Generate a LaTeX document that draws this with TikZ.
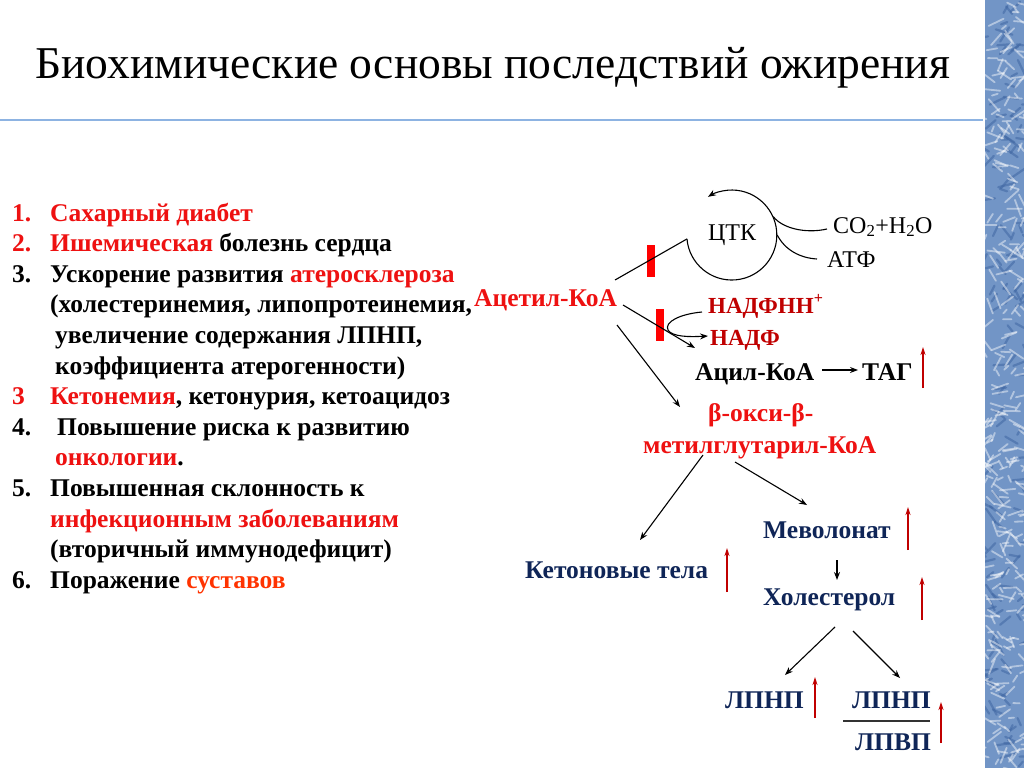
\documentclass[tikz,border=0pt]{standalone}
\usepackage{fontspec}
\setmainfont{Liberation Serif}
\usetikzlibrary{arrows.meta,calc}
\definecolor{navy}{HTML}{0F2557}
\definecolor{hired}{HTML}{EE1111}
\definecolor{darkred}{HTML}{C00000}
\definecolor{orangered}{HTML}{FF3300}
\definecolor{rulecol}{HTML}{8DB3E2}
\definecolor{frost}{HTML}{7295C6}
\definecolor{frostdark}{HTML}{3F66A2}
\begin{document}
\begin{tikzpicture}[x=1pt,y=-1pt,
  lst/.style={anchor=base west, inner sep=0pt, font=\fontsize{25.5}{30}\selectfont\bfseries},
  dg/.style={anchor=base west, inner sep=0pt, font=\fontsize{25.5}{30}\selectfont\bfseries},
  thin/.style={anchor=base west, inner sep=0pt, font=\fontsize{24}{28}\selectfont},
  arr/.style={-{Stealth[length=8pt,width=6pt]}, line width=1.1pt},
  uparr/.style={darkred, line width=1.6pt, -{Stealth[length=8pt,width=5pt]}},
  redbar/.style={fill=red, draw=none, inner sep=0pt, minimum width=8pt, minimum height=32pt}]
\useasboundingbox (0,0) rectangle (1024,768);
\fill[white] (0,0) rectangle (1024,768);

% right frosted strip
\begin{scope}
  \clip (985,0) rectangle (1024,768);
  \fill[frost] (985,0) rectangle (1024,768);
  \pgfmathsetseed{7}
  \foreach \i in {1,...,140}{
    \pgfmathsetmacro\xx{980+48*rnd}
    \pgfmathsetmacro\yy{768*rnd}
    \pgfmathsetmacro\ll{6+12*rnd}
    \pgfmathsetmacro\aa{-70+140*rnd}
    \draw[frostdark, opacity=0.55, line width=2.2pt, line cap=round] (\xx,\yy) -- ++(\aa:\ll);
  }
  \foreach \i in {1,...,320}{
    \pgfmathsetmacro\xx{980+48*rnd}
    \pgfmathsetmacro\yy{768*rnd}
    \pgfmathsetmacro\ll{5+13*rnd}
    \pgfmathsetmacro\aa{-70+140*rnd}
    \draw[white, opacity=0.45, line width=1.8pt, line cap=round] (\xx,\yy) -- ++(\aa:\ll);
  }
\end{scope}

% title and rule
\node[anchor=base west, inner sep=0pt, font=\fontsize{45.5}{54}\selectfont] (title) at (35,78) {Биохимические основы последствий ожирения};
\draw[rulecol, line width=2.5pt] (0,120) -- (983,120);

% list
\node[lst,hired] (n1) at (12,221) {1.};
\node[lst,hired] (t1) at (50,221) {Сахарный диабет};
\node[lst,hired] (n2) at (12,251.6) {2.};
\node[lst] (t2) at (50,251.6) {\textcolor{hired}{Ишемическая} болезнь сердца};
\node[lst] (n3) at (12,282.2) {3.};
\node[lst] (t3) at (50,282.2) {Ускорение развития \textcolor{hired}{атеросклероза}};
\node[lst] (t3b) at (50,312.8) {(холестеринемия, липопротеинемия,};
\node[lst] (t3c) at (55,343.4) {увеличение содержания ЛПНП,};
\node[lst] (t3d) at (55,374) {коэффициента атерогенности)};
\node[lst,hired] (n3k) at (12,404.6) {3};
\node[lst] (tk) at (50,404.6) {\textcolor{hired}{Кетонемия}, кетонурия, кетоацидоз};
\node[lst] (n4) at (12,435.2) {4.};
\node[lst] (t4) at (57,435.2) {Повышение риска к развитию};
\node[lst,hired] (t4b) at (55,465.8) {онкологии\textcolor{black}{.}};
\node[lst] (n5) at (12,496.4) {5.};
\node[lst] (t5) at (50,496.4) {Повышенная склонность к};
\node[lst,hired] (t5b) at (50,527) {инфекционным заболеваниям};
\node[lst] (t5c) at (50,557.6) {(вторичный иммунодефицит)};
\node[lst] (n6) at (12,588.2) {6.};
\node[lst] (t6) at (50,588.2) {Поражение \textcolor{orangered}{суставов}};

% diagram nodes
\node[dg,hired] (acetyl) at (474,306) {Ацетил-КоА};
\node[circle, inner sep=0pt, minimum size=90pt, font=\fontsize{24}{28}\selectfont] (ctk) at (732,235) {ЦТК};
\node[thin] (co2) at (833,233) {CO\textsubscript{2}+H\textsubscript{2}O};
\node[thin] (atf) at (827,267) {АТФ};
\node[dg, darkred, font=\fontsize{23}{28}\selectfont\bfseries] (nadph) at (708,313) {НАДФНН\textsuperscript{+}};
\node[dg, darkred, font=\fontsize{23}{28}\selectfont\bfseries] (nadp) at (710,345) {НАДФ};
\node[dg] (acyl) at (695,380) {Ацил-КоА};
\node[dg] (tag) at (862,380) {ТАГ};
\node[dg,hired] (beta1) at (708,421.7) {β-окси-β-};
\node[dg,hired] (beta2) at (643,453) {метилглутарил-КоА};
\node[dg,navy] (mev) at (763,538) {Меволонат};
\node[dg,navy] (keto) at (525,578) {Кетоновые тела};
\node[dg,navy] (chol) at (763,605) {Холестерол};
\node[dg,navy] (ldl) at (725,708) {ЛПНП};
\node[dg,navy] (ldl2) at (852,708) {ЛПНП};
\node[dg,navy] (hdl) at (855,750) {ЛПВП};
\node[redbar] (bar1) at (651,261) {};
\node[redbar] (bar2) at (660,325) {};

% cycle
\draw[line width=1.1pt, -{Stealth[length=8pt,width=6pt]}] (ctk.185) arc[start angle=185, end angle=482, radius=45pt];
\draw[line width=1.1pt] ($(acetyl.base west)+(141,-26)$) -- (ctk.185);
\draw[line width=1.1pt] (ctk.24) .. controls (782,228) and (805,234) .. ($(co2.base west)+(-6,-4)$);
\draw[line width=1.1pt] (ctk.0) .. controls (785,250) and (800,258) .. ($(atf.base west)+(-10,-8)$);

% acetyl branches
\draw[arr] ($(acetyl.base west)+(149,-1)$) -- ($(acyl.base west)+(0,-32)$);
\draw[arr] ($(acetyl.base west)+(143,19)$) -- ($(beta1.base west)+(-28,-14.7)$);
\draw[arr] ($(nadph.base west)+(-6,-1)$) .. controls (680,314) and (664,322) .. (668,330) .. controls (672,337) and (690,337) .. ($(nadp.base west)+(-2,-9)$);
\draw[arr] ($(acyl.base west)+(127,-10)$) -- ($(tag.base west)+(-4,-10)$);

% lower tree
\draw[arr] ($(beta2.base west)+(60,2)$) -- ($(keto.base west)+(115,-38)$);
\draw[arr] ($(beta2.base west)+(92,9)$) -- ($(mev.base west)+(44,-33)$);
\draw[arr] ($(mev.base west)+(74,22)$) -- ($(chol.base west)+(74,-25)$);
\draw[arr] ($(chol.base west)+(72,22)$) -- ($(ldl.base west)+(60,-33)$);
\draw[arr] ($(chol.base west)+(90,26)$) -- ($(ldl2.base west)+(48,-30)$);
\draw[line width=1.6pt, black!80] ($(ldl2.base west)+(-9,12.7)$) -- ($(ldl2.base west)+(78,12.7)$);

% increase arrows
\draw[uparr] ($(tag.base west)+(61,8)$) -- ($(tag.base west)+(61,-33)$);
\draw[uparr] ($(mev.base west)+(145,12)$) -- ($(mev.base west)+(145,-31)$);
\draw[uparr] ($(keto.base west)+(202,14)$) -- ($(keto.base west)+(202,-30)$);
\draw[uparr] ($(chol.base west)+(159,15)$) -- ($(chol.base west)+(159,-28)$);
\draw[uparr] ($(ldl.base west)+(90,10)$) -- ($(ldl.base west)+(90,-31)$);
\draw[uparr] ($(ldl2.base west)+(89,35)$) -- ($(ldl2.base west)+(89,-6)$);
\end{tikzpicture}
\end{document}
